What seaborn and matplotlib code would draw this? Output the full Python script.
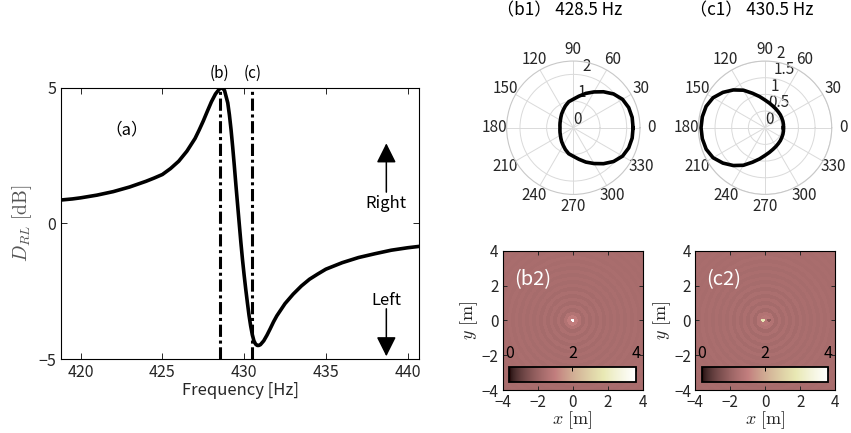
import numpy as np
import pandas as pd
import matplotlib
matplotlib.use("Agg")
import matplotlib.pyplot as plt
import seaborn as sns

# (a) direction index vs frequency
freq_hz = [418.8, 419.5, 420, 421, 422, 423, 424, 424.5, 425, 425.5, 426, 426.5, 427,
           427.25, 427.5, 427.75, 428, 428.25, 428.5, 428.65, 428.8, 429, 429.1, 429.2,
           429.3, 429.4, 429.5, 429.6, 429.7, 429.8, 429.9, 430, 430.1, 430.2, 430.3,
           430.4, 430.5, 430.6, 430.7, 430.8, 430.9, 431, 431.2, 431.4, 431.6, 431.8,
           432, 432.5, 433, 433.5, 434, 434.5, 435, 436, 437, 438, 439, 440, 440.7]
d_rl_db = [0.86, 0.90, 0.94, 1.04, 1.17, 1.34, 1.55, 1.67, 1.80, 2.02, 2.29, 2.66, 3.13,
           3.44, 3.77, 4.13, 4.48, 4.77, 4.96, 5.00, 4.90, 4.44, 4.00, 3.46,
           2.82, 2.13, 1.40, 0.70, 0.00, -0.69, -1.33, -1.90, -2.43, -2.92, -3.39,
           -3.78, -4.10, -4.33, -4.45, -4.50, -4.50, -4.47, -4.33, -4.12, -3.88, -3.63,
           -3.41, -2.96, -2.61, -2.31, -2.06, -1.87, -1.69, -1.45, -1.26, -1.12, -0.99,
           -0.90, -0.85]
marker_freqs = [428.5, 430.5]
marker_labels = ["(b)", "(c)"]

# (b1)/(c1) directivity patterns, every 10 degrees
theta_deg = list(range(0, 361, 10))
r_b1 = [2.24, 2.24, 2.21, 2.13, 1.97, 1.76, 1.55, 1.37, 1.20, 1.07, 0.99, 0.87, 0.76,
        0.68, 0.61, 0.56, 0.53, 0.51, 0.50, 0.51, 0.53, 0.56, 0.61, 0.68, 0.76, 0.87,
        0.99, 1.07, 1.20, 1.37, 1.55, 1.76, 1.97, 2.13, 2.21, 2.24, 2.24]
r_c1 = [0.55, 0.56, 0.57, 0.58, 0.60, 0.62, 0.65, 0.69, 0.75, 0.83, 0.95, 1.10, 1.30,
        1.48, 1.65, 1.80, 1.88, 1.91, 1.92, 1.91, 1.88, 1.80, 1.65, 1.48, 1.30, 1.10,
        0.95, 0.83, 0.75, 0.69, 0.65, 0.62, 0.60, 0.58, 0.57, 0.56, 0.55]

# (b2)/(c2) sound field: radial profile in 0.2 m rings + local spots
ring_step = 0.2
profile_b2 = [4.0, 1.45, 1.22, 1.05, 1.16, 1.05, 1.14, 1.06, 1.13, 1.06, 1.12, 1.07, 1.12,
              1.07, 1.11, 1.07, 1.11, 1.08, 1.11, 1.08, 1.10, 1.08, 1.10, 1.08, 1.10,
              1.09, 1.10, 1.09, 1.10, 1.09]
profile_c2 = [1.30, 1.30, 1.22, 1.04, 1.17, 1.05, 1.15, 1.06, 1.14, 1.06, 1.13, 1.07, 1.12,
              1.07, 1.12, 1.07, 1.11, 1.08, 1.11, 1.08, 1.10, 1.08, 1.10, 1.08, 1.10,
              1.09, 1.10, 1.09, 1.10, 1.09]
# (x, y, radius, value)
spots_c2 = [(-0.12, 0.0, 0.12, 3.0), (0.2, 0.0, 0.09, 0.75)]
grid_step = 0.05

plt.rcParams['font.family'] = ['Noto Sans CJK JP', 'DejaVu Sans']
plt.rcParams['mathtext.fontset'] = 'cm'
txt = '#262626'

fig = plt.figure(figsize=(8.51, 4.33), dpi=100)

# ---------- panel (a)
ax = fig.add_axes([0.0717, 0.1709, 0.4207, 0.6266])
df = pd.DataFrame({'f': freq_hz, 'd': d_rl_db})
sns.lineplot(data=df, x='f', y='d', ax=ax, color='black', lw=2.6, sort=False)
for f, lab in zip(marker_freqs, marker_labels):
    ax.axvline(f, color='black', lw=2.2, ls=(0, (4, 1.2, 1, 1.2)))
    ax.text(f, 5.2, lab, ha='center', va='bottom', fontsize=11, color='black')
ax.set_xlim(418.8, 440.7)
ax.set_ylim(-5, 5)
ax.set_xticks([420, 425, 430, 435, 440])
ax.set_yticks([-5, 0, 5])
ax.tick_params(direction='in', top=True, right=True, labelsize=11.5, colors=txt,
               length=4, width=0.7)
for s in ax.spines.values():
    s.set_linewidth(0.8)
ax.set_xlabel('Frequency [Hz]', fontsize=12, color=txt, labelpad=1)
ax.set_ylabel(r'$D_{RL}\ [\mathrm{dB}]$', fontsize=14, color='#555555', labelpad=3)
ax.text(422.8, 3.46, '（a）', ha='center', va='center', fontsize=12, color='black')
ax.annotate('', xy=(438.7, 2.95), xytext=(438.7, 1.15),
            arrowprops=dict(arrowstyle='-|>', mutation_scale=30, lw=1.1, color='black',
                            shrinkA=0, shrinkB=0))
ax.annotate('', xy=(438.7, -4.9), xytext=(438.7, -3.15),
            arrowprops=dict(arrowstyle='-|>', mutation_scale=30, lw=1.1, color='black',
                            shrinkA=0, shrinkB=0))
ax.text(438.7, 0.74, 'Right', ha='center', va='center', fontsize=12, color='black')
ax.text(438.7, -2.85, 'Left', ha='center', va='center', fontsize=12, color='black')

# ---------- polar panels
polar_specs = [
    (0.5953, r_b1, 2.5, [0, 1, 2], ['0', '1', '2'], '（b1） 428.5 Hz', 560),
    (0.8206, r_c1, 2.0, [0, 0.5, 1, 1.5, 2], ['0', '0.5', '1', '1.5', '2'],
     '（c1） 430.5 Hz', 752),
]
for left, rr, rmax, rt, rl, title, tx in polar_specs:
    pax = fig.add_axes([left, 0.551, 0.1568, 0.308], projection='polar')
    pdf = pd.DataFrame({'t': np.deg2rad(theta_deg), 'r': rr})
    sns.lineplot(data=pdf, x='t', y='r', ax=pax, color='black', lw=2.6, sort=False)
    pax.set_xlabel('')
    pax.set_ylabel('')
    pax.set_ylim(0, rmax)
    pax.set_thetagrids(np.arange(0, 360, 30), labels=[str(a) for a in range(0, 360, 30)])
    pax.set_rgrids(rt, labels=rl, angle=80)
    pax.grid(color='#dadada', lw=0.7)
    pax.spines['polar'].set_color('#c8c8c8')
    pax.spines['polar'].set_linewidth(0.8)
    pax.tick_params(axis='x', labelsize=11, colors=txt, pad=-2)
    pax.tick_params(axis='y', labelsize=11, colors=txt)
    fig.text(tx / 851, 1 - 10 / 433, title, ha='center', va='center', fontsize=12.3,
             color='black')

# ---------- field panels
coords = np.arange(-4 + grid_step / 2, 4, grid_step)
X, Y = np.meshgrid(coords, coords[::-1])
R = np.hypot(X, Y)
ring_idx = np.rint(R / ring_step).astype(int)

field_specs = [
    (0.5907, profile_b2, [], '(b2)'),
    (0.8170, profile_c2, spots_c2, '(c2)'),
]
ntick = [0, 40, 80, 120, 160]
for left, prof, spots, lab in field_specs:
    hax = fig.add_axes([left, 0.0993, 0.1645, 0.3217])
    field = np.asarray(prof)[np.clip(ring_idx, 0, len(prof) - 1)]
    for sx, sy, srad, sval in spots:
        field[np.hypot(X - sx, Y - sy) <= srad] = sval
    cax = hax.inset_axes([0.047, 0.06, 0.903, 0.103])
    sns.heatmap(field, ax=hax, cmap='pink', vmin=0, vmax=4, cbar_ax=cax,
                cbar_kws={'orientation': 'horizontal', 'ticks': [0, 2, 4]},
                xticklabels=False, yticklabels=False, rasterized=True)
    hax.set_xticks(ntick)
    hax.set_xticklabels(['−4', '−2', '0', '2', '4'])
    hax.set_yticks(ntick)
    hax.set_yticklabels(['4', '2', '0', '−2', '−4'], rotation=0)
    for s in hax.spines.values():
        s.set_visible(True)
        s.set_linewidth(0.8)
    hax.tick_params(direction='in', top=True, right=True, labelsize=11, colors=txt,
                    length=3, width=0.7, pad=3)
    hax.set_xlabel(r'$x\ [\mathrm{m}]$', fontsize=13, color=txt, labelpad=-1)
    hax.set_ylabel(r'$y\ [\mathrm{m}]$', fontsize=13, color=txt, labelpad=1)
    hax.text(0.08, 0.79, lab, transform=hax.transAxes, color='white', fontsize=14.5,
             va='center', ha='left')
    cax.xaxis.set_ticks_position('top')
    cax.tick_params(direction='in', labelsize=11.5, colors='black', length=3, width=0.7,
                    pad=4)
    cb = hax.collections[0].colorbar
    cb.outline.set_linewidth(1.3)
    cb.outline.set_edgecolor('black')

fig.savefig('out.png', dpi=100)
